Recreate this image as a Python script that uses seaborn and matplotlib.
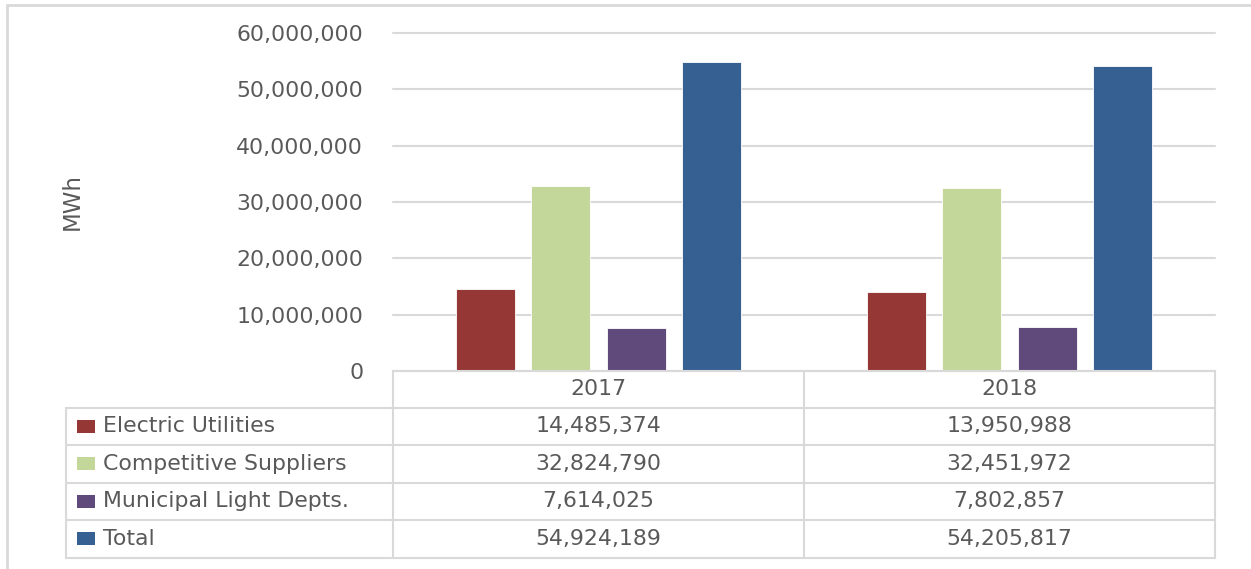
import matplotlib
matplotlib.use("Agg")
import matplotlib.pyplot as plt
import matplotlib.transforms as mtransforms
from matplotlib.patches import Rectangle
from matplotlib.lines import Line2D
import seaborn as sns
import pandas as pd

# ---------------- data ----------------
years = ["2017", "2018"]
series = ["Electric Utilities", "Competitive Suppliers", "Municipal Light Depts.", "Total"]
electric_utilities = [14485374, 13950988]
competitive_suppliers = [32824790, 32451972]
municipal_light = [7614025, 7802857]
total = [54924189, 54205817]
y_ticks = [0, 10000000, 20000000, 30000000, 40000000, 50000000, 60000000]
y_label = "MWh"
colors = ["#953735", "#C4D79B", "#604A7B", "#366092"]

values = [electric_utilities, competitive_suppliers, municipal_light, total]
rows = []
for s, vals in zip(series, values):
    for yr, v in zip(years, vals):
        rows.append({"Year": yr, "Series": s, "MWh": v})
df = pd.DataFrame(rows)

# ---------------- style ----------------
sns.set_theme(style="white")
plt.rcParams['font.family'] = ['DejaVu Sans']
TXT = "#595959"
GRID = "#D9D9D9"
FS = 15.8

W, H = 1251, 569
fig = plt.figure(figsize=(W / 100, H / 100), dpi=100)
fig.patch.set_facecolor("white")

def fx(x):
    return x / W

def fy(y):
    return 1 - y / H

ax = fig.add_axes([fx(393), fy(371), fx(1215) - fx(393), fy(33) - fy(371)])
sns.barplot(data=df, x="Year", y="MWh", hue="Series", hue_order=series, order=years,
            palette=colors, saturation=1, width=0.733, gap=0.217, legend=False,
            edgecolor="white", linewidth=0.6, ax=ax)

ax.set_xlim(-0.5, len(years) - 0.5)
ax.set_ylim(0, y_ticks[-1])
ax.set_yticks(y_ticks)
ax.set_yticklabels([f"{v:,.0f}" for v in y_ticks])
ax.set_xticks([])
ax.set_xlabel("")
ax.set_ylabel("")
ax.yaxis.grid(True, color=GRID, linewidth=1.5)
for gl in ax.get_ygridlines():
    gl.set_clip_on(False)
ax.set_axisbelow(True)
for sp in ax.spines.values():
    sp.set_visible(False)
ax.tick_params(axis="y", length=0, pad=21.5, labelsize=FS, labelcolor=TXT)

fig.text(fx(72), fy(202), y_label, rotation=90, ha="center", va="center",
         fontsize=16.5, color=TXT)

# ---------------- data table ----------------
lw = 1.5
bt = mtransforms.blended_transform_factory(ax.transData, fig.transFigure)
x_lo, x_hi = -0.5, len(years) - 0.5
row_edges = [407.7, 445, 482.7, 520, 557.7]
head_top = 371

# header row lines
fig.add_artist(Line2D([x_lo, x_hi], [fy(head_top)] * 2, transform=bt, color=GRID, lw=lw))
# vertical column lines
for i in range(len(years) + 1):
    xv = x_lo + i
    fig.add_artist(Line2D([xv, xv], [fy(head_top), fy(row_edges[-1])], transform=bt,
                          color=GRID, lw=lw))
# left label column border
fig.add_artist(Line2D([fx(66), fx(66)], [fy(row_edges[0]), fy(row_edges[-1])],
                      transform=fig.transFigure, color=GRID, lw=lw))
# horizontal row lines
for ye in row_edges:
    fig.add_artist(Line2D([fx(66), fx(1215)], [fy(ye)] * 2, transform=fig.transFigure,
                          color=GRID, lw=lw))

# header texts
for i, yr in enumerate(years):
    fig.text(i, fy((head_top + row_edges[0]) / 2), yr, transform=bt, ha="center",
             va="center", fontsize=FS, color=TXT)

# rows
for r, (s, vals, c) in enumerate(zip(series, values, colors)):
    yc = (row_edges[r] + row_edges[r + 1]) / 2
    fig.add_artist(Rectangle((fx(77), fy(yc + 6.5)), fx(95) - fx(77), fy(yc - 6.5) - fy(yc + 6.5),
                             transform=fig.transFigure, facecolor=c, edgecolor="none"))
    fig.text(fx(103), fy(yc), s, ha="left", va="center", fontsize=FS, color=TXT)
    for i, v in enumerate(vals):
        fig.text(i, fy(yc), f"{v:,.0f}", transform=bt, ha="center", va="center",
                 fontsize=FS, color=TXT)

# outer frame (document border)
fig.add_artist(Line2D([fx(7), fx(7)], [fy(5), fy(569)], transform=fig.transFigure,
                      color=GRID, lw=2))
fig.add_artist(Line2D([fx(7), fx(1251)], [fy(5), fy(5)], transform=fig.transFigure,
                      color=GRID, lw=2))

fig.savefig("out.png", dpi=100, facecolor="white")
